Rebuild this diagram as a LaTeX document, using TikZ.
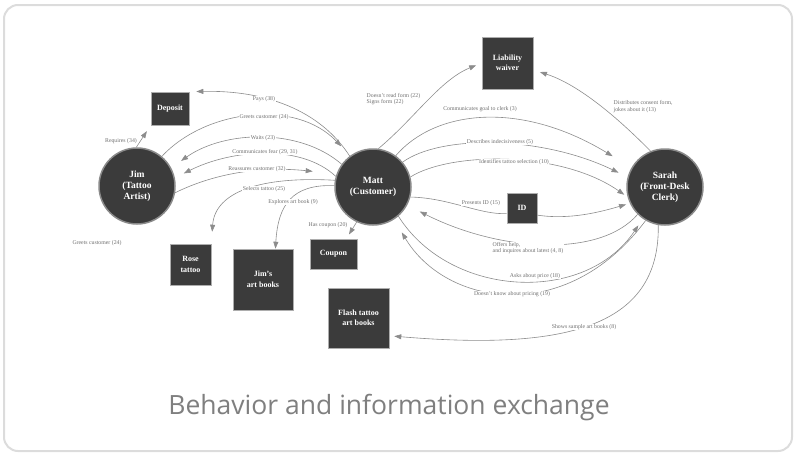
\documentclass[tikz,border=0pt]{standalone}
\usepackage{fontspec}
\setmainfont{Liberation Serif}
\newfontfamily\titlefont{Open Sans}
\usetikzlibrary{arrows.meta}
\definecolor{boxfill}{HTML}{3B3B3B}
\definecolor{rim}{HTML}{8A8A8A}
\definecolor{flowgrey}{HTML}{8C8C8C}
\definecolor{notegrey}{HTML}{707070}
\definecolor{framegrey}{HTML}{DCDCDC}
\definecolor{titlegrey}{HTML}{7F7F7F}
\begin{document}
\begin{tikzpicture}[x=1pt,y=-1pt,
            person/.style={circle,fill=boxfill,draw=rim,line width=1.5pt,minimum size=76pt,inner sep=0pt,
                text=white,align=center,font=\bfseries\fontsize{9.5}{11}\selectfont},
            thing/.style={rectangle,fill=boxfill,draw=rim!70,line width=0.6pt,inner sep=0pt,
                text=white,align=center,font=\bfseries\fontsize{8}{10.5}\selectfont},
            flowline/.style={draw=flowgrey,line width=0.6pt},
            flow/.style={flowline,-{Triangle[length=7pt,width=5pt]}},
            note/.style={fill=white,inner sep=0.5pt,text=notegrey,font=\fontsize{5.8}{6.6}\selectfont}]
            \useasboundingbox (0,0) rectangle (795,455);
            \draw[framegrey,line width=2pt,rounded corners=14pt] (4,5) rectangle (792,451);

            \node (jim) at (137,186) [person] {Jim\\(Tattoo\\Artist)};
            \node (matt) at (373,187) [person] {Matt\\(Customer)};
            \node (sarah) at (665,187) [person] {Sarah\\(Front-Desk\\Clerk)};
            \node (deposit) at (170,108.5) [thing,minimum width=38pt,minimum height=33pt] {Deposit};
            \node (waiver) at (507.5,63) [thing,minimum width=51pt,minimum height=52pt] {Liability\\waiver};
            \node (id) at (522,208) [thing,minimum width=30pt,minimum height=30pt] {ID};
            \node (rose) at (190.5,264.5) [thing,minimum width=41pt,minimum height=41pt] {Rose\\tattoo};
            \node (artbooks) at (263,279.5) [thing,minimum width=60pt,minimum height=61pt] {Jim's\\art books};
            \node (coupon) at (333.5,254) [thing,minimum width=47pt,minimum height=30pt] {Coupon};
            \node (flash) at (358.5,318) [thing,minimum width=61pt,minimum height=60pt] {Flash tattoo\\art books};

            \draw[flow,shorten >=7pt] (jim.91) -- (deposit.south west);
            \draw[flow,shorten >=7pt] (matt.127) .. controls (320,110) and (265,90) .. (deposit.north east);
            \draw[flow,shorten >=13pt] (jim.50) .. controls (205,110) and (295,98) .. (matt.126);
            \draw[flow,shorten >=12pt] (matt.144) .. controls (300,128) and (225,130) .. (jim.28);
            \draw[flow,shorten >=10pt] (matt.164) .. controls (300,143) and (230,150) .. (jim.12);
            \draw[flow,shorten >=24pt] (jim.-10) .. controls (205,178) and (250,165) .. (matt.160);
            \draw[flow,shorten >=12pt] (matt.170) .. controls (260,176) and (215,192) .. (rose.north east);
            \draw[flow] (matt.178) .. controls (292,184) and (278,205) .. (artbooks.68);
            \draw[flow,shorten >=5pt] (matt.245) -- (coupon.50);
            \draw[flow,shorten >=6pt] (matt.82) .. controls (415,118) and (440,80) .. (waiver.west);
            \draw[flow,shorten >=22pt] (matt.54) .. controls (435,110) and (520,100) .. (sarah.150);
            \draw[flow,shorten >=10pt] (matt.40) .. controls (440,135) and (540,135) .. (sarah.165);
            \draw[flow,shorten >=4pt] (matt.15) .. controls (450,152) and (560,150) .. (sarah.195);
            \draw[flowline] (matt.-15) .. controls (450,198) and (480,215) .. (id.200);
            \draw[flow,shorten >=4pt] (id.-25) .. controls (570,220) and (600,212) .. (sarah.205);
            \draw[flow,shorten >=14pt] (sarah.225) .. controls (600,258) and (500,252) .. (matt.-28);
            \draw[flow,shorten >=8pt] (matt.-49) .. controls (450,298) and (585,305) .. (sarah.235);
            \draw[flow,shorten >=15pt] (sarah.240) .. controls (565,328) and (445,305) .. (matt.-57);
            \draw[flow,shorten >=5pt] (sarah.260) .. controls (660,330) and (560,350) .. (flash.-30);
            \draw[flow,shorten >=7pt] (sarah.112) .. controls (620,120) and (580,85) .. (waiver.-15);

            \node (lreq) at (121,141) [note] {Requires (34)};
            \node (lpays) at (264,99) [note] {Pays (38)};
            \node (lgreet) at (264,117) [note] {Greets customer (24)};
            \node (lwaits) at (263,138) [note] {Waits (23)};
            \node (lfear) at (265,152) [note] {Communicates fear (29, 31)};
            \node (lreass) at (257,169) [note] {Reassures customer (32)};
            \node (lsel) at (264,189) [note] {Selects tattoo (25)};
            \node (lexpl) at (293,202) [note] {Explores art book (9)};
            \node (lcoup) at (328,225) [note] {Has coupon (20)};
            \node (lform) at (366,99) [note,anchor=west,align=left] {Doesn't read form (22)\\Signs form (22)};
            \node (lgoal) at (480,109) [note] {Communicates goal to clerk (3)};
            \node (lindec) at (500,142) [note] {Describes indecisiveness (5)};
            \node (lident) at (514,162) [note] {Identifies tattoo selection (10)};
            \node (lid) at (481,203) [note] {Presents ID (15)};
            \node (lhelp) at (492,248) [note,anchor=west,align=left] {Offers help,\\and inquires about latest (4, 8)};
            \node (lprice) at (535,276) [note] {Asks about price (18)};
            \node (lknow) at (512,294) [note] {Doesn't know about pricing (19)};
            \node (lshow) at (584,327) [note] {Shows sample art books (8)};
            \node (lconsent) at (613,106.5) [note,anchor=west,align=left] {Distributes consent form,\\jokes about it (13)};
            \node (lgreet2) at (97,243) [note] {Greets customer (24)};

            \node (title) at (389,408) [text=titlegrey,font=\titlefont\fontsize{26.5}{32}\selectfont] {Behavior and information exchange};
        \end{tikzpicture}
\end{document}
